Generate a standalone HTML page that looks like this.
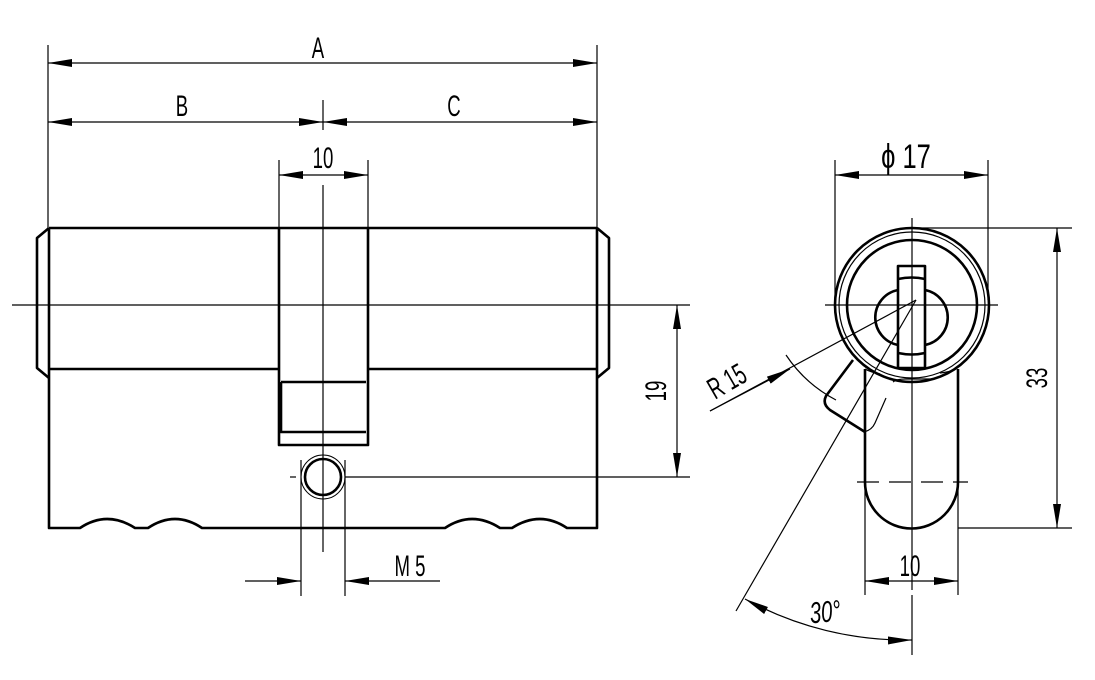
<!DOCTYPE html>
<html><head><meta charset="utf-8"><style>
html,body{margin:0;padding:0;background:#fff;}
svg{display:block}
text{font-family:"Liberation Sans",sans-serif;fill:#000}
</style></head><body>
<svg width="1095" height="680" viewBox="0 0 1095 680" xmlns="http://www.w3.org/2000/svg">
<defs>
<marker id="ar" viewBox="0 0 24 8" refX="24" refY="4" markerWidth="24" markerHeight="8" markerUnits="userSpaceOnUse" orient="auto-start-reverse"><path d="M0,0 L24,4 L0,8 Z" fill="#000"/></marker>
</defs>
<g stroke="#000" fill="none" stroke-width="1.2">
<line x1="48" y1="45" x2="48" y2="228"/>
<line x1="597" y1="45" x2="597" y2="228"/>
<line x1="279" y1="160" x2="279" y2="228"/>
<line x1="368" y1="160" x2="368" y2="228"/>
<line x1="323" y1="100" x2="323" y2="130"/>
<line x1="323" y1="185" x2="323" y2="552"/>
<line x1="48" y1="63" x2="597" y2="63" marker-start="url(#ar)" marker-end="url(#ar)"/>
<line x1="48" y1="122" x2="323" y2="122" marker-start="url(#ar)" marker-end="url(#ar)"/>
<line x1="323" y1="122" x2="597" y2="122" marker-start="url(#ar)" marker-end="url(#ar)"/>
<line x1="279" y1="175" x2="368" y2="175" marker-start="url(#ar)" marker-end="url(#ar)"/>
<line x1="12" y1="305" x2="690" y2="305"/>
<line x1="290" y1="477" x2="296" y2="477"/>
<line x1="345" y1="477" x2="690" y2="477"/>
<line x1="677" y1="305" x2="677" y2="477" marker-start="url(#ar)" marker-end="url(#ar)"/>
<line x1="301" y1="460" x2="301" y2="596"/>
<line x1="345" y1="460" x2="345" y2="596"/>
<line x1="245" y1="581" x2="301" y2="581" marker-end="url(#ar)"/>
<line x1="440" y1="581" x2="345" y2="581" marker-end="url(#ar)"/>
</g>
<g stroke="#000" fill="none" stroke-width="2.6" stroke-linejoin="round">
<line x1="49" y1="228" x2="597" y2="228"/>
<line x1="49" y1="369" x2="279" y2="369"/>
<line x1="368" y1="369" x2="597" y2="369"/>
<path d="M49,228 V528 H80 Q107,510 135,528 H148 Q175,510 202,528 H445 Q472,510 500,528 H512 Q540,510 567,528 H597 V228"/>
<path d="M49,228 L37,238 V368 L49,378"/>
<path d="M597,228 L609,238 V368 L597,378"/>
<path d="M279,228 V445 H368 V228"/>
<path d="M281,382 H366 M281,382 V432 H366"/>
<circle cx="323" cy="477" r="18"/>
</g>
<circle cx="323" cy="477" r="22" stroke="#000" stroke-width="1" fill="none"/>
<g stroke="#000" fill="none" stroke-width="1.2">
<line x1="835" y1="160" x2="835" y2="300"/>
<line x1="988" y1="160" x2="988" y2="300"/>
<line x1="835" y1="175" x2="988" y2="175" marker-start="url(#ar)" marker-end="url(#ar)"/>
<line x1="912" y1="228" x2="1072" y2="228"/>
<line x1="958" y1="528" x2="1072" y2="528"/>
<line x1="1057" y1="228" x2="1057" y2="528" marker-start="url(#ar)" marker-end="url(#ar)"/>
<line x1="825" y1="305" x2="998" y2="305"/>
<line x1="912" y1="218" x2="912" y2="590"/>
<line x1="912" y1="595" x2="912" y2="655"/>
<line x1="865" y1="482" x2="865" y2="595"/>
<line x1="958" y1="482" x2="958" y2="595"/>
<line x1="865" y1="581" x2="958" y2="581" marker-start="url(#ar)" marker-end="url(#ar)"/>
<line x1="857" y1="482" x2="968" y2="482" stroke-dasharray="22,10"/>
<line x1="916" y1="300" x2="736" y2="611"/>
<line x1="916" y1="300" x2="710" y2="411"/>
<line x1="710" y1="411" x2="790" y2="369" marker-end="url(#ar)"/>
<path d="M786,355 A135,135 0 0 0 836,400"/>
<path d="M912,640 A335,335 0 0 1 745,599" marker-start="url(#ar)" marker-end="url(#ar)"/>
<path d="M893,382 Q897,379 905,379 H930"/>
<path d="M886,398 L875,423 Q872,430 864,432"/>
<path d="M880,374 Q870,372 865,369"/>
<path d="M940,373 Q950,372 955,369"/>
</g>
<g stroke="#000" fill="none" stroke-width="2.6" stroke-linejoin="round">
<circle cx="912" cy="305" r="77"/>
<circle cx="912" cy="305" r="65"/>
<path d="M865,369 V482 A46.5,46.5 0 0 0 958,482 V369"/>
<path d="M853,360 L826,396 Q822,404 830,410 L865,432"/>
<rect x="898" y="266" width="27" height="102"/>
<path d="M898,279 Q912,276 925,279 M898,353 Q912,356 925,353"/>
<path d="M898,290 A28,28 0 0 0 898,345 M925,290 A28,28 0 0 1 925,345"/>
</g>
<circle cx="912" cy="305" r="73" stroke="#000" stroke-width="1.2" fill="none"/>
<g transform="translate(318,58) scale(0.62,1)"><text text-anchor="middle" font-size="30">A</text></g>
<g transform="translate(182,116) scale(0.62,1)"><text text-anchor="middle" font-size="30">B</text></g>
<g transform="translate(454,116) scale(0.62,1)"><text text-anchor="middle" font-size="30">C</text></g>
<g transform="translate(323,168) scale(0.62,1)"><text text-anchor="middle" font-size="30">10</text></g>
<g transform="translate(410,576) scale(0.62,1)"><text text-anchor="middle" font-size="30">M 5</text></g>
<g transform="translate(910,576) scale(0.62,1)"><text text-anchor="middle" font-size="30">10</text></g>
<g transform="translate(906,168) scale(0.75,1)"><text text-anchor="middle" font-size="34">ϕ 17</text></g>
<g transform="translate(666,391) rotate(-90) scale(0.62,1)"><text text-anchor="middle" font-size="30">19</text></g>
<g transform="translate(1047,378) rotate(-90) scale(0.62,1)"><text text-anchor="middle" font-size="30">33</text></g>
<g transform="translate(732,390) rotate(-30) scale(0.62,1)"><text text-anchor="middle" font-size="30">R 15</text></g>
<g transform="translate(826,622) rotate(-5) scale(0.68,1)"><text text-anchor="middle" font-size="30" font-style="italic">30°</text></g>
</svg>
</body></html>
